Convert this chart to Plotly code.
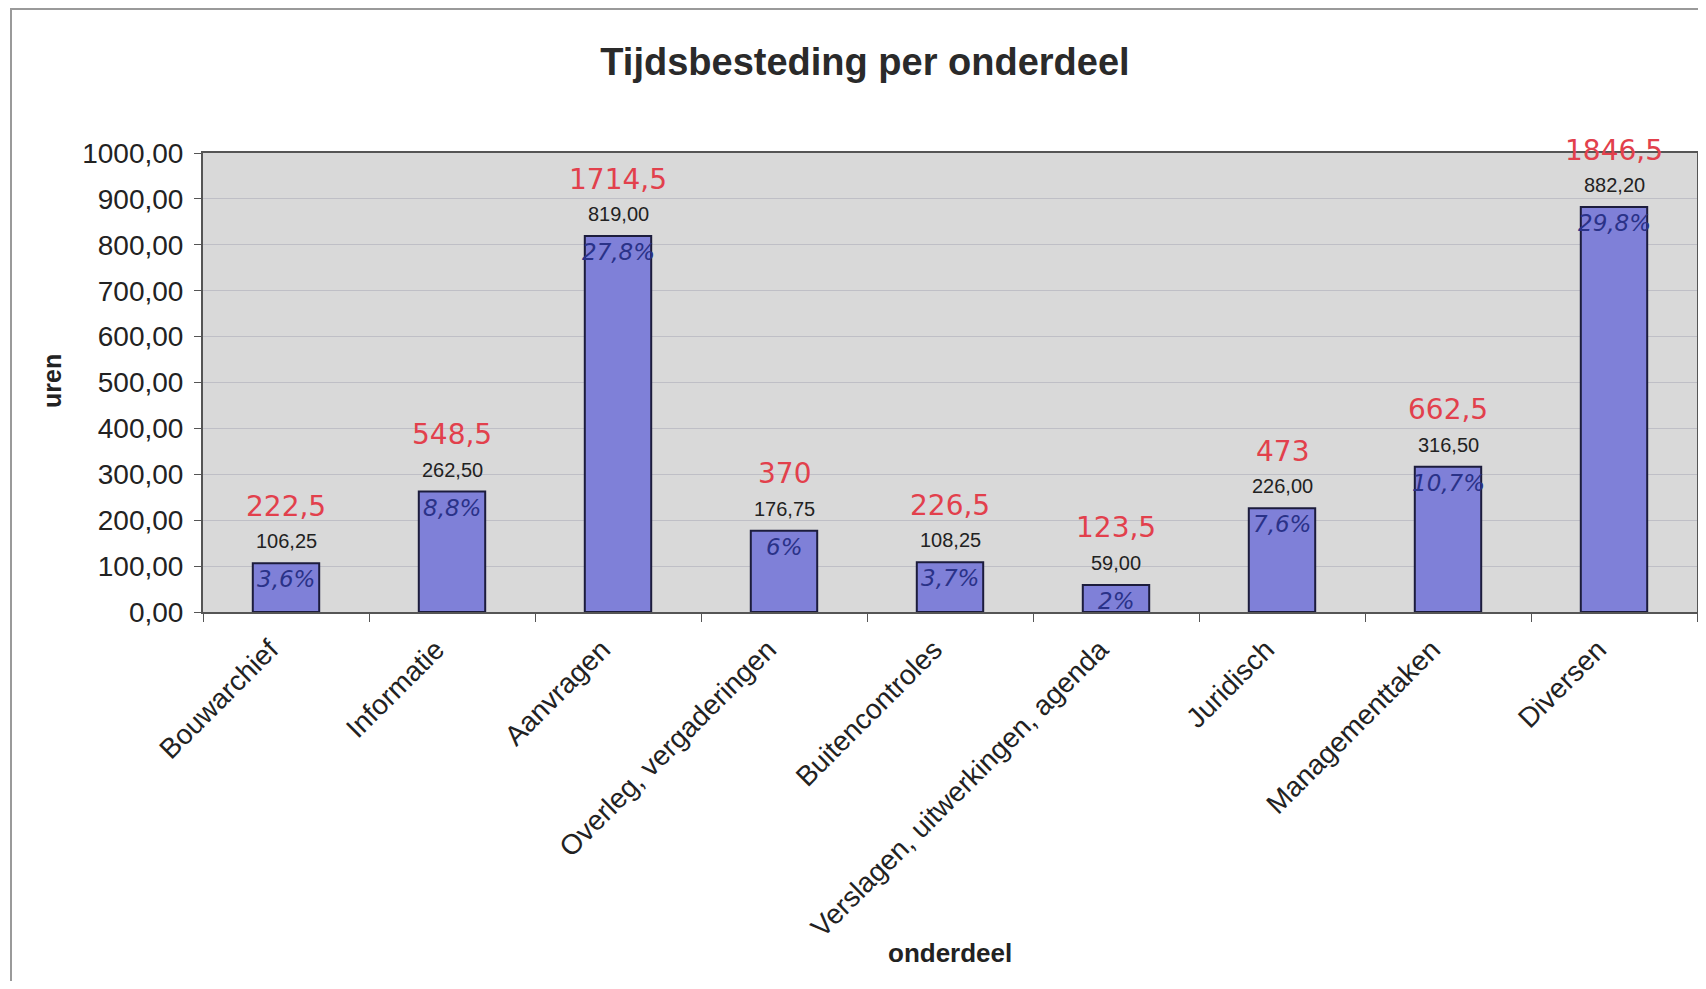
import plotly.graph_objects as go

categories = ["Bouwarchief", "Informatie", "Aanvragen", "Overleg, vergaderingen",
              "Buitencontroles", "Verslagen, uitwerkingen, agenda", "Juridisch",
              "Managementtaken", "Diversen"]
uren = [106.25, 262.50, 819.00, 176.75, 108.25, 59.00, 226.00, 316.50, 882.20]
handwritten_totals = ["222,5", "548,5", "1714,5", "370", "226,5", "123,5", "473", "662,5", "1846,5"]
handwritten_pct = ["3,6%", "8,8%", "27,8%", "6%", "3,7%", "2%", "7,6%", "10,7%", "29,8%"]
y_ticks = [0, 100, 200, 300, 400, 500, 600, 700, 800, 900, 1000]

# page body has an 8px margin; positions below are reference pixels minus that offset
OFF = 8
W, H = 1690, 973
L, R, T, B = 203 - OFF, W - 1, 153 - OFF, 612 - OFF
pw, ph = R - L, B - T

font_fam = "Liberation Sans, Arial, sans-serif"
hand_fam = "DejaVu Sans, sans-serif"

fig = go.Figure()
fig.add_trace(go.Bar(
    x=categories, y=uren,
    marker=dict(color="#7f80d8", line=dict(color="#1c1c3c", width=2)),
    width=0.4,
    hoverinfo="x+y",
))

annotations = []
for c, v, tot, pct in zip(categories, uren, handwritten_totals, handwritten_pct):
    annotations.append(dict(x=c, y=v, xref="x", yref="y", text=f"{v:.2f}".replace(".", ","),
                            showarrow=False, yshift=22,
                            font=dict(family=font_fam, size=20, color="#222222")))
    annotations.append(dict(x=c, y=v, xref="x", yref="y", text=tot,
                            showarrow=False, yshift=57,
                            font=dict(family=hand_fam, size=28, color="#e2404c")))
    annotations.append(dict(x=c, y=v, xref="x", yref="y", text=f"<i>{pct}</i>",
                            showarrow=False, yshift=-16,
                            font=dict(family=hand_fam, size=23, color="#2a3288")))

annotations.append(dict(x=(950 - OFF - L) / pw, y=(B - (953 - OFF)) / ph, xref="paper", yref="paper",
                        xanchor="center", yanchor="middle",
                        text="<b>onderdeel</b>", showarrow=False,
                        font=dict(family=font_fam, size=26, color="#222222")))
annotations.append(dict(x=(52 - OFF - L) / pw, y=(B - (381 - OFF)) / ph, xref="paper", yref="paper",
                        xanchor="center", yanchor="middle",
                        text="<b>uren</b>", showarrow=False, textangle=-90,
                        font=dict(family=font_fam, size=25, color="#222222")))

fig.update_layout(
    width=W, height=H,
    margin=dict(l=L, r=W - R, t=T, b=H - B, autoexpand=False),
    paper_bgcolor="white",
    plot_bgcolor="#d9d9d9",
    separators=",.",
    showlegend=False,
    title=dict(text="<b>Tijdsbesteding per onderdeel</b>",
               x=(865 - OFF - L) / pw, xref="paper", xanchor="center",
               y=1 - (62 - OFF) / H, yref="container", yanchor="middle",
               font=dict(family=font_fam, size=38, color="#2a2a2a")),
    annotations=annotations,
    shapes=[dict(type="rect", xref="paper", yref="paper",
                 x0=(11 - OFF - L) / pw, x1=(1760 - L) / pw,
                 y0=(B - 1100) / ph, y1=(B - (9 - OFF)) / ph,
                 line=dict(color="#9a9a9a", width=2), fillcolor="rgba(0,0,0,0)",
                 layer="below")],
    bargap=0.6,
)

fig.update_xaxes(
    type="category",
    tickangle=-45,
    tickson="boundaries",
    ticks="outside", ticklen=8, tickcolor="#555555", tickwidth=1,
    ticklabelshift=-16, ticklabelstandoff=8,
    showline=True, linecolor="#555555", linewidth=2, mirror=True,
    showgrid=False,
    tickfont=dict(family=font_fam, size=28, color="#222222"),
)
fig.update_yaxes(
    range=[0, 1000],
    tickvals=y_ticks,
    tickformat=".2f",
    ticks="outside", ticklen=7, tickcolor="#555555", tickwidth=1,
    ticklabelstandoff=5,
    showline=True, linecolor="#555555", linewidth=2, mirror=True,
    showgrid=True, gridcolor="#bfbfc6", gridwidth=1,
    zeroline=False,
    tickfont=dict(family=font_fam, size=28, color="#222222"),
)

fig.write_html("out.html")
